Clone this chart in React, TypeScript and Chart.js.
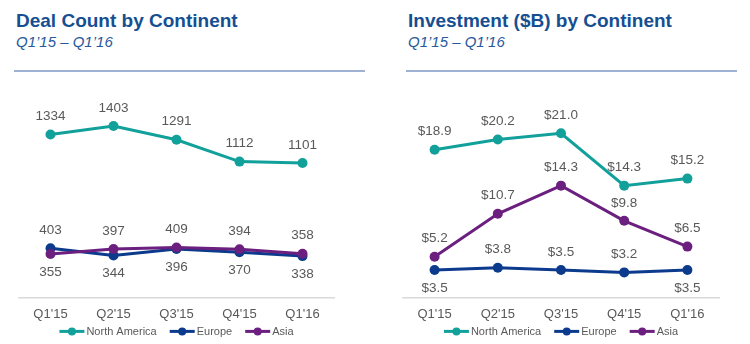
import React, { useEffect, useRef } from "react";
import { Chart, registerables } from "chart.js";

Chart.register(...registerables);

// ---- data ----
const quarters = ["Q1'15", "Q2'15", "Q3'15", "Q4'15", "Q1'16"];
const seriesNames = ["North America", "Europe", "Asia"];

const dealNorthAmerica = [1334, 1403, 1291, 1112, 1101];
const dealEurope = [403, 344, 396, 370, 338];
const dealAsia = [355, 397, 409, 394, 358];

const invNorthAmerica = [18.9, 20.2, 21.0, 14.3, 15.2];
const invEurope = [3.5, 3.8, 3.5, 3.2, 3.5];
const invAsia = [5.2, 10.7, 14.3, 9.8, 6.5];

// label placement (style), per series per point
const dealLabelSides = [
  ["up", "up", "up", "up", "up"],
  ["up", "down", "down", "down", "down"],
  ["down", "up", "up", "up", "up"],
];
const invLabelSides = [
  ["up", "up", "up", "up", "up"],
  ["down", "up", "up", "up", "down"],
  ["up", "up", "up", "up", "up"],
];

const COLORS = ["#12a09a", "#0c3a8c", "#6b1f7e"];
const FONT = "'Liberation Sans', Arial, Helvetica, sans-serif";
const TEXT_GRAY = "#595959";

type Props = {
  series: number[][];
  sides: string[][];
  fmt: (v: number) => string;
  yMax: number;
  padLeft: number;
  padRight: number;
};

function LineChart({ series, sides, fmt, yMax, padLeft, padRight }: Props) {
  const ref = useRef<HTMLCanvasElement | null>(null);
  useEffect(() => {
    if (!ref.current) return;
    const labelPlugin = {
      id: "pointLabels",
      afterDatasetsDraw(chart: any) {
        const ctx = chart.ctx;
        ctx.save();
        ctx.font = `13.5px ${FONT}`;
        ctx.fillStyle = TEXT_GRAY;
        ctx.textAlign = "center";
        ctx.textBaseline = "middle";
        chart.data.datasets.forEach((ds: any, di: number) => {
          const meta = chart.getDatasetMeta(di);
          meta.data.forEach((pt: any, i: number) => {
            const side = sides[di][i];
            const y = side === "up" ? pt.y - 18 : pt.y + 18;
            ctx.fillText(fmt(ds.data[i]), pt.x, y);
          });
        });
        ctx.restore();
      },
    };
    const legendPlugin = {
      id: "customLegend",
      afterDraw(chart: any) {
        const ctx = chart.ctx;
        const area = chart.chartArea;
        ctx.save();
        ctx.font = `11px ${FONT}`;
        const lineW = 25;
        const gapText = 2;
        const gapItem = 13;
        const widths = seriesNames.map((n) => ctx.measureText(n).width);
        let total = 0;
        widths.forEach((w, i) => {
          total += lineW + gapText + w + (i < widths.length - 1 ? gapItem : 0);
        });
        let x = (area.left + area.right) / 2 - total / 2;
        const y = area.bottom + 34;
        seriesNames.forEach((name, i) => {
          ctx.strokeStyle = COLORS[i];
          ctx.lineWidth = 3;
          ctx.beginPath();
          ctx.moveTo(x, y);
          ctx.lineTo(x + lineW, y);
          ctx.stroke();
          ctx.fillStyle = COLORS[i];
          ctx.beginPath();
          ctx.arc(x + lineW / 2, y, 4, 0, Math.PI * 2);
          ctx.fill();
          ctx.fillStyle = TEXT_GRAY;
          ctx.textAlign = "left";
          ctx.textBaseline = "middle";
          ctx.fillText(name, x + lineW + gapText, y + 0.5);
          x += lineW + gapText + widths[i] + gapItem;
        });
        ctx.restore();
      },
    };
    const chart = new Chart(ref.current, {
      type: "line",
      data: {
        labels: quarters,
        datasets: series.map((vals, i) => ({
          label: seriesNames[i],
          data: vals,
          borderColor: COLORS[i],
          backgroundColor: COLORS[i],
          pointBackgroundColor: COLORS[i],
          pointBorderColor: COLORS[i],
          borderWidth: 3,
          pointRadius: 5,
          pointBorderWidth: 0,
          tension: 0,
          order: series.length - 1 - i,
        })),
      },
      options: {
        responsive: false,
        animation: false,
        devicePixelRatio: 1,
        layout: { padding: { left: padLeft, right: padRight, top: 22, bottom: 13 } },
        plugins: {
          legend: { display: false },
          tooltip: { enabled: false },
          title: { display: false },
        },
        scales: {
          x: {
            offset: true,
            grid: { display: false, drawTicks: false },
            border: { display: true, color: "#d9d9d9", width: 1.5 },
            ticks: {
              padding: 9,
              color: TEXT_GRAY,
              font: { size: 13, family: FONT },
              maxRotation: 0,
            },
          },
          y: {
            display: false,
            min: 0,
            max: yMax,
          },
        },
      },
      plugins: [labelPlugin, legendPlugin],
    });
    return () => chart.destroy();
  }, []);
  return <canvas ref={ref} width={375} height={264} style={{ display: "block", width: 375, height: 264 }} />;
}

function Panel({
  left,
  title,
  ruleLeft,
  ruleWidth,
  children,
}: {
  left: number;
  title: string;
  ruleLeft: number;
  ruleWidth: number;
  children: React.ReactNode;
}) {
  return (
    <div style={{ position: "absolute", left, top: 0, width: 375, height: 344 }}>
      <div
        style={{
          position: "absolute",
          left: ruleLeft + 2,
          top: 11,
          font: `bold 19px ${FONT}`,
          lineHeight: "19px",
          color: "#154f92",
          whiteSpace: "nowrap",
        }}
      >
        {title}
      </div>
      <div
        style={{
          position: "absolute",
          left: ruleLeft + 2,
          top: 34,
          font: `italic 15px ${FONT}`,
          lineHeight: "15px",
          color: "#28599c",
          whiteSpace: "nowrap",
        }}
      >
        {"Q1\u201915 \u2013 Q1\u201916"}
      </div>
      <div
        style={{
          position: "absolute",
          left: ruleLeft,
          top: 70,
          width: ruleWidth,
          height: 2,
          background: "#9fb2d3",
        }}
      />
      <div style={{ position: "absolute", left: 0, top: 80 }}>{children}</div>
    </div>
  );
}

export default function App() {
  return (
    <div
      style={{
        position: "fixed",
        left: 0,
        top: 0,
        width: 750,
        height: 344,
        background: "#ffffff",
        overflow: "hidden",
      }}
    >
      <Panel left={0} title="Deal Count by Continent" ruleLeft={14} ruleWidth={351}>
        <LineChart
          series={[dealNorthAmerica, dealEurope, dealAsia]}
          sides={dealLabelSides}
          fmt={(v) => String(v)}
          yMax={1600}
          padLeft={19}
          padRight={41}
        />
      </Panel>
      <Panel left={375} title="Investment ($B) by Continent" ruleLeft={31} ruleWidth={331}>
        <LineChart
          series={[invNorthAmerica, invEurope, invAsia]}
          sides={invLabelSides}
          fmt={(v) => "$" + v.toFixed(1)}
          yMax={25}
          padLeft={28}
          padRight={31}
        />
      </Panel>
    </div>
  );
}
